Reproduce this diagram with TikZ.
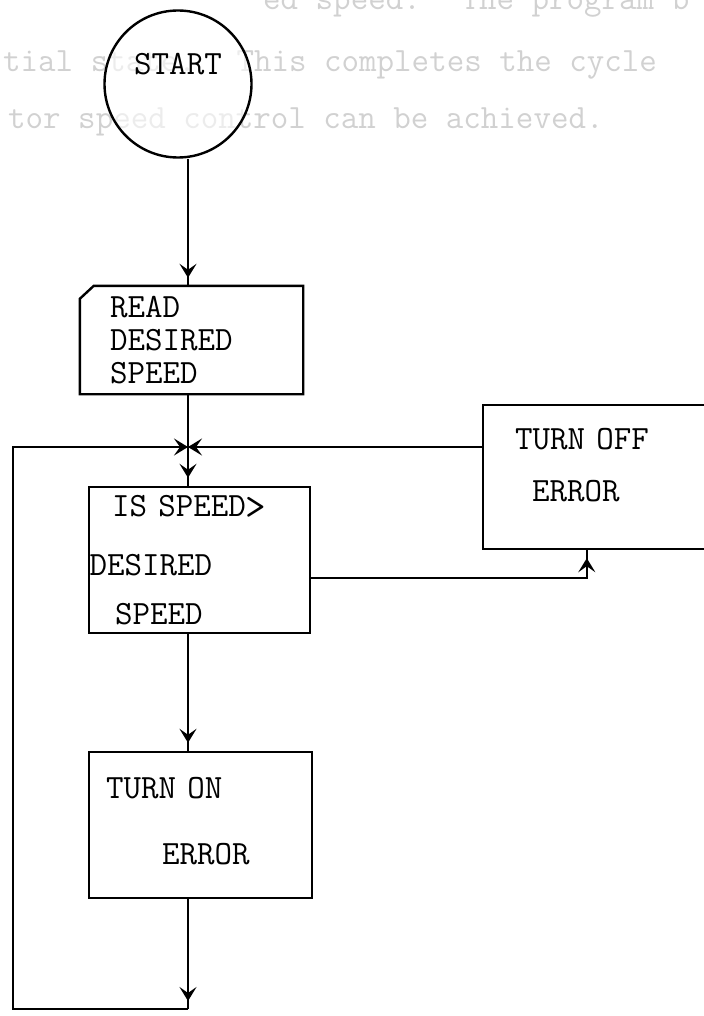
\documentclass[tikz,border=0pt]{standalone}
\usepackage{fontspec}
\usepackage{tikz}
\usetikzlibrary{arrows.meta, positioning, decorations.markings}
\newcommand{\tsize}{\fontsize{17pt}{16.5pt}\selectfont}

\begin{document}
\begin{tikzpicture}[
        x=0.5pt, y=-0.5pt,
        line width=1.2pt,
        font=\ttfamily\tsize,
        >={Stealth[length=7pt, width=8.5pt, inset=3pt]},
        every node/.style={align=left},
        box/.style={rectangle, draw, inner ysep=0pt, minimum height=73pt},
        ghost/.style={text=black!18, anchor=base west, inner sep=0pt},
        flow/.style={postaction={decorate},
                     decoration={markings, mark=at position -4pt with {\arrow{>}}}},
        into/.style={-{>}}
    ]
    \useasboundingbox (0,0) rectangle (704,1016);
    \clip (0,0) rectangle (704,1016);

    % text showing through from the back of the sheet
    \node[ghost] (g1) at (262,10) {ed speed.~ The program b};
    \node[ghost] (g2) at (2,72) {tial state.~ This completes the cycle};
    \node[ghost] (g3) at (7,129) {tor speed control can be achieved.};

    \node[circle, draw, fill=white, fill opacity=0.6, text opacity=1,
          minimum size=73.5pt, inner sep=0pt] (start) at (178,84)
        {START\rule[-20pt]{0pt}{20pt}};

    \node[inner xsep=14.5pt, inner ysep=0pt, text width=81.5pt, minimum height=53pt]
        (read) at (191.5,340) {READ\\DESIRED\\SPEED};
    \draw (read.south west) -- ([yshift=-6.5pt]read.north west)
        -- ([xshift=7pt]read.north west) -- (read.north east)
        -- (read.south east) -- cycle;

    \node[box, inner xsep=0.25pt, text width=110pt] (decide) at (199.5,560)
        {\hspace*{11.25pt}IS SPEED{\raisebox{-1.5pt}{\fontsize{20pt}{20pt}\selectfont>}}\\[13pt]
         DESIRED\\[8pt]
         \hspace*{12.75pt}SPEED};

    \node[box, inner xsep=16pt, text width=98.5pt, minimum height=72pt] (turnoff) at (613.5,477)
        {TURN OFF\\[9.5pt]\hspace*{8.5pt}ERROR\rule[-12pt]{0pt}{12pt}};

    \node[box, inner xsep=8.5pt, text width=94.5pt] (turnon) at (200.5,825)
        {TURN ON\\[16.5pt]\hspace*{28pt}ERROR\rule[-4pt]{0pt}{4pt}};

    \coordinate (j) at (188,447);
    \coordinate (fb) at (13,1009);

    \draw[flow] (start.south -| j) -- (j |- read.north);
    \draw (j |- read.south) -- (j);
    \draw[flow] (j) -- (j |- decide.north);
    \draw[flow] (j |- decide.south) -- (j |- turnon.north);
    \draw[flow] (j |- turnon.south) -- (j |- fb);
    \draw[into] (j |- fb) -- (fb) -- (fb |- j) -- (j);
    \draw[into] (turnoff.west |- j) -- (j);
    \draw[flow] ([yshift=-9pt]decide.east) -| ([xshift=52.5pt]turnoff.south west);
\end{tikzpicture}
\end{document}
